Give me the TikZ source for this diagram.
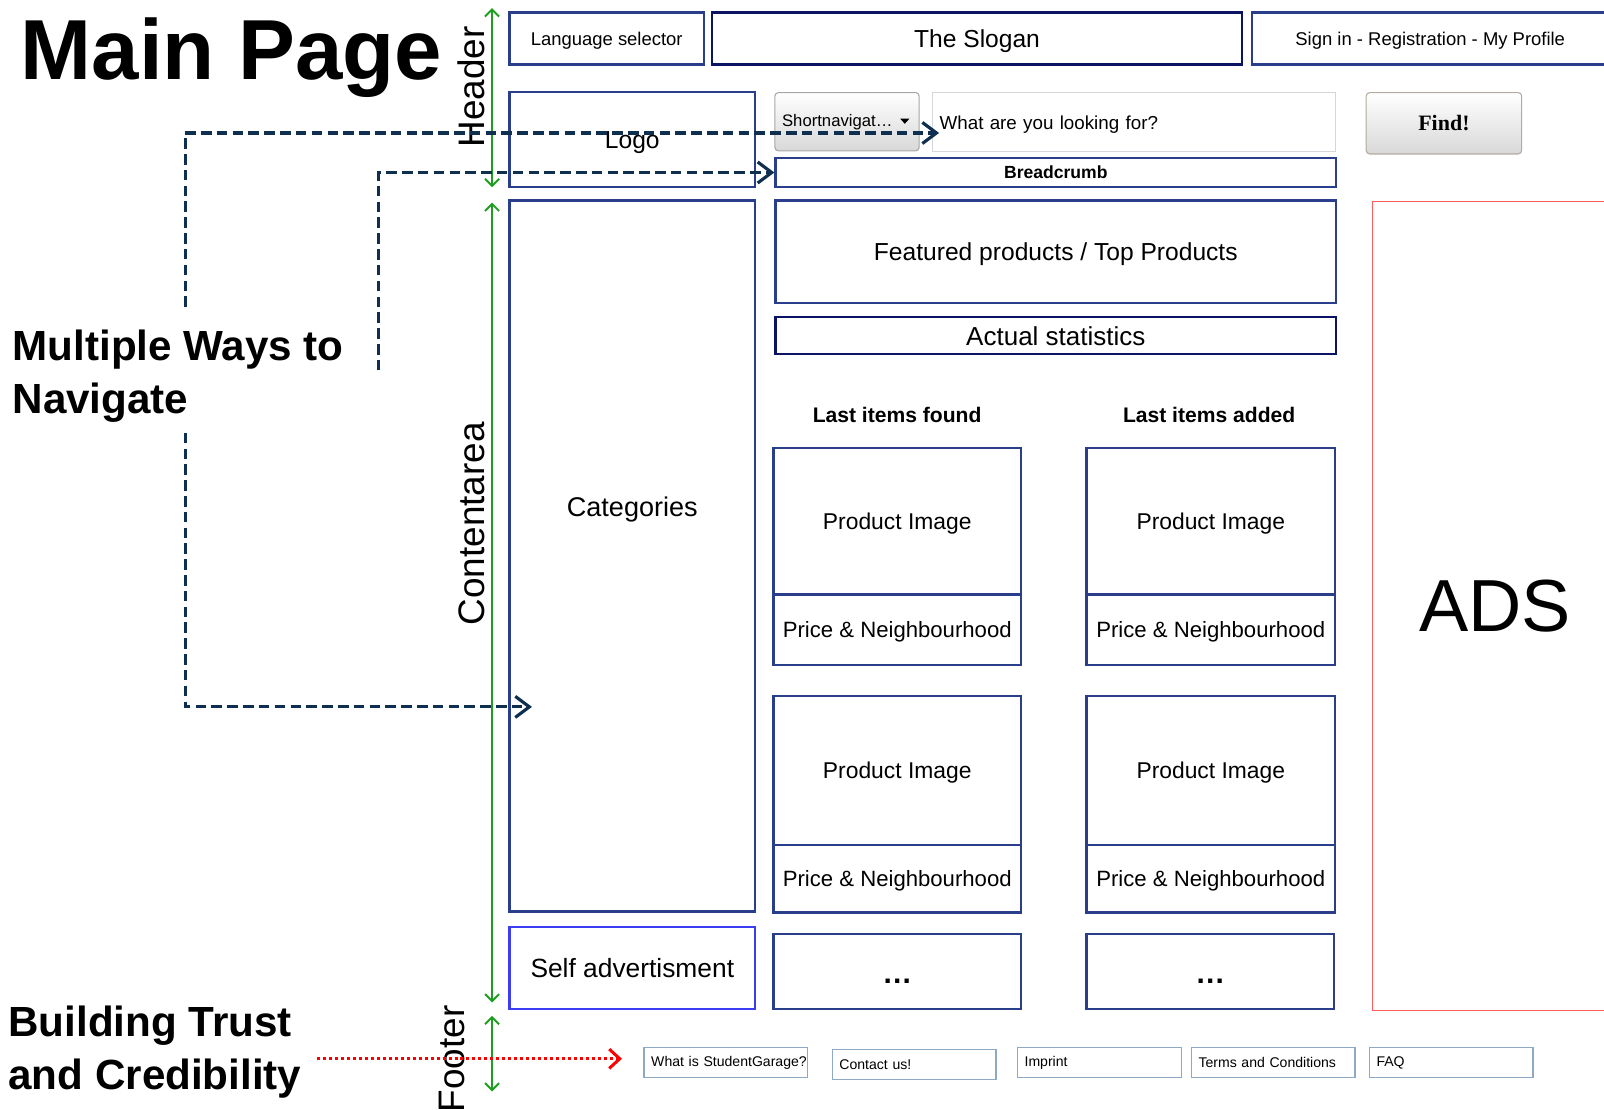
\documentclass[tikz,border=0pt]{standalone}
\usepackage{fontspec}
\setmainfont{Liberation Sans}
\newfontfamily\timesfont{Liberation Serif}
\usetikzlibrary{arrows.meta}
\definecolor{wireblue}{HTML}{2A3F8C}
\definecolor{wirenavy}{HTML}{0B1464}
\definecolor{selfblue}{HTML}{3C3CF5}
\definecolor{adsred}{HTML}{FF5C5C}
\definecolor{navdash}{HTML}{0E2F50}
\definecolor{spangreen}{HTML}{1E9E1E}
\definecolor{linkblue}{HTML}{8EA8C8}
\definecolor{fieldgray}{HTML}{D3D7DC}
\definecolor{btngray}{HTML}{A6A6A6}
\definecolor{btnshade}{HTML}{D8D8D8}
\definecolor{findgray}{HTML}{B3AB9E}
\newcommand{\px}{0.02046cm}
\newcommand{\sz}[1]{\fontsize{#1}{#1}\selectfont}

\begin{document}
\begin{tikzpicture}[x=\px, y=-\px,
		frame/.style={draw=wireblue, line width=1.3pt, inner sep=0pt, text depth=0pt, anchor=north west},
		dims/.style args={#1 by #2}{minimum width=#1*\px, minimum height=#2*\px},
		button/.style={draw=btngray, line width=0.6pt, rounded corners=2pt, top color=white, bottom color=btnshade, inner sep=0pt, anchor=north west},
		link/.style={draw=linkblue, line width=0.7pt, anchor=north west, dims=160 by 30, inner xsep=0.143cm, inner ysep=0pt, text width=2.987cm, align=left, font=\sz{8}},
		span/.style={draw=spangreen, line width=1.1pt, {Straight Barb[length=4pt,width=8pt]}-{Straight Barb[length=4pt,width=8pt]}},
		navline/.style={draw=navdash, line width=1.8pt, dash pattern=on 6pt off 3pt, -{Straight Barb[length=8pt,width=12pt]}},
		trustline/.style={draw=red, line width=1.7pt, dash pattern=on 1.7pt off 1.7pt, -{Straight Barb[length=6pt,width=11pt]}},
		side/.style={font=\sz{21}, rotate=90, inner sep=0pt},
		note/.style={anchor=north west, align=left, inner sep=0pt, font=\bfseries\fontsize{24}{30}\selectfont}
	]
	\useasboundingbox (0,0) rectangle (1568,1085);
	\clip (0,0) rectangle (1568,1085);

	\node[anchor=base west, inner sep=0pt, font=\bfseries\sz{48.5}] (title) at (20,78) {Main Page};

	\node[frame, dims=190 by 51, font=\sz{10.5}] (lang) at (497,11) {Language selector};
	\node[frame, draw=wirenavy, dims=518 by 51, font=\sz{14}] (slogan) at (695,11) {The Slogan};
	\node[frame, dims=348 by 51, font=\sz{10.5}] (signin) at (1223,11) {Sign in - Registration - My Profile};

	\node[frame, dims=240 by 93, font=\sz{14}] (logo) at (497,89) {Logo};
	\node[button, dims=141 by 57, inner xsep=0.143cm, text width=2.598cm, align=left, font=\sz{9.5}] (shortnav) at (757,90) {Shortnavigat\ldots};
	\fill (880,116) -- (889,116) -- (884.5,121) -- cycle;
	\node[frame, draw=fieldgray, line width=0.6pt, dims=394 by 58, inner xsep=0.143cm, text width=7.775cm, align=left, font=\sz{10.7}] (search) at (911,90) {What are you looking for?};
	\node[button, draw=findgray, dims=152 by 60, font=\timesfont\bfseries\sz{12.5}] (find) at (1335,90) {Find!};
	\node[frame, dims=548 by 29, font=\bfseries\sz{10}] (crumb) at (757,153) {Breadcrumb};

	\node[frame, dims=240 by 695, font=\sz{15.4}] (cat) at (497,195) {\raisebox{22.5pt}[0pt][0pt]{Categories}};
	\node[frame, dims=548 by 100, font=\sz{14}] (featured) at (757,195) {Featured products / Top Products};
	\node[frame, draw=wirenavy, dims=548 by 36, font=\sz{14.8}] (stats) at (757,309) {Actual statistics};

	\node[font=\bfseries\sz{12}] (foundhead) at (877,406) {Last items found};
	\node[font=\bfseries\sz{12}] (addedhead) at (1182,406) {Last items added};

	\node[frame, dims=242 by 143, font=\sz{13}] (foundimg1) at (755,437) {Product Image};
	\node[frame, dims=242 by 69, font=\sz{12.6}] (foundprice1) at (755,580) {Price \& Neighbourhood};
	\node[frame, dims=242 by 146, font=\sz{13}] (foundimg2) at (755,679) {Product Image};
	\node[frame, dims=242 by 66, font=\sz{12.6}] (foundprice2) at (755,825) {Price \& Neighbourhood};
	\node[frame, dims=243 by 143, font=\sz{13}] (addedimg1) at (1061,437) {Product Image};
	\node[frame, dims=243 by 69, font=\sz{12.6}] (addedprice1) at (1061,580) {Price \& Neighbourhood};
	\node[frame, dims=243 by 146, font=\sz{13}] (addedimg2) at (1061,679) {Product Image};
	\node[frame, dims=243 by 66, font=\sz{12.6}] (addedprice2) at (1061,825) {Price \& Neighbourhood};

	\node[frame, draw=selfblue, dims=240 by 80, font=\sz{15}] (selfad) at (497,905) {Self advertisment};
	\node[frame, dims=242 by 73, font=\bfseries\sz{17}] (foundmore) at (755,912) {\raisebox{-7pt}[0pt][0pt]{\ldots}};
	\node[frame, dims=242 by 73, font=\bfseries\sz{17}] (addedmore) at (1061,912) {\raisebox{-7pt}[0pt][0pt]{\ldots}};

	\node[frame, draw=adsred, line width=0.8pt, dims=240 by 791, font=\sz{42}] (ads) at (1341,196) {ADS};

	\node[link] (about) at (629,1023) {\mbox{What is StudentGarage?}};
	\node[link] (contact) at (813,1025) {Contact us!};
	\node[link] (imprint) at (994,1023) {Imprint};
	\node[link] (terms) at (1164,1023) {Terms and Conditions};
	\node[link] (faq) at (1338,1023) {FAQ};

	\node[side] (headerlabel) at (461,85) {Header};
	\node[side] (contentlabel) at (461,512) {Contentarea};
	\node[side] (footerlabel) at (442,1035) {Footer};

	\node[note] (navnote) at (12,322) {Multiple Ways to\\Navigate};
	\node[note] (trustnote) at (8,983) {Building Trust\\and Credibility};

	\coordinate (headtop) at (481,8);
	\coordinate (headbottom) at (481,183);
	\coordinate (contenttop) at (481,198);
	\coordinate (contentbottom) at (481,980);
	\coordinate (foottop) at (481,993);
	\coordinate (footbottom) at (481,1067);
	\draw[span] (headtop) -- (headbottom);
	\draw[span] (contenttop) -- (contentbottom);
	\draw[span] (foottop) -- (footbottom);

	\coordinate (searchfrom) at (181,300);
	\coordinate (searchto) at (918,130);
	\coordinate (crumbfrom) at (370,362);
	\coordinate (catfrom) at (181,423);
	\coordinate (catto) at (520,691);
	\draw[navline] (searchfrom) |- (searchto);
	\draw[navline] (crumbfrom) |- (crumb.west);
	\draw[navline] (catfrom) |- (catto);

	\coordinate (trustfrom) at (310,1035);
	\coordinate (trustto) at (608,1035);
	\draw[trustline] (trustfrom) -- (trustto);
\end{tikzpicture}
\end{document}
